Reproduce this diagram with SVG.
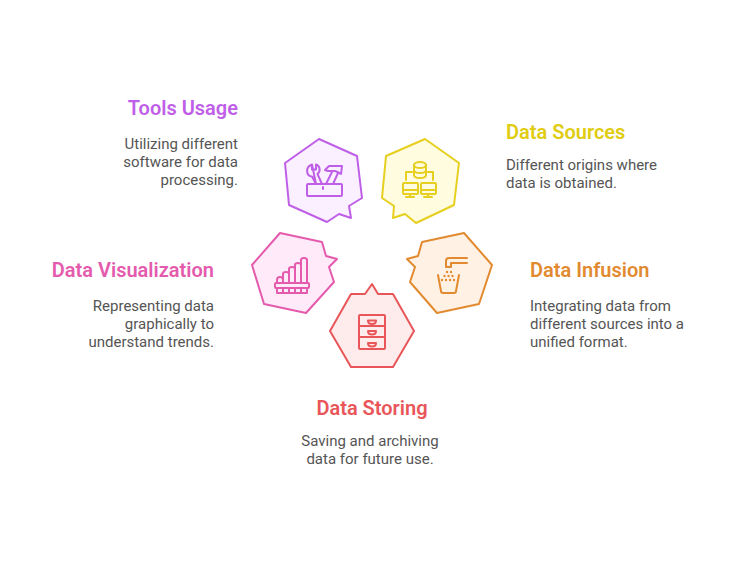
<svg xmlns="http://www.w3.org/2000/svg" width="744" height="564" viewBox="0 0 744 564">
<style>
text{font-family:Roboto,"Liberation Sans",sans-serif}
.t{font-size:20px;font-weight:600}
.d{font-size:15px;fill:#555}
.o{stroke-width:2;stroke-linejoin:round}
.i{fill:none;stroke-width:2;stroke-linejoin:round;stroke-linecap:round}
.e{text-anchor:end}.m{text-anchor:middle}
</style>
<rect width="744" height="564" fill="#fff"/>
<g id="connectors"/>
<g id="tools">
<polygon class="o" points="319,139 357,156 362,198 349,206 351,218 339,214 327,222 289,205 285,163" fill="#faf0ff" stroke="#bf5fe8"/>
<g class="i" stroke="#bf5fe8">
<rect x="307" y="184" width="35" height="12" rx="1"/>
<path d="M312,164.5 V169.5 H316 V164.5 C320,166 321,171 317.5,174 L322,184 M316,184 L312,176.5 C306,176 305,167 312,164.5 Z"/>
<path d="M325,170 L329,166 H342 L341,174 Q338,172 335,171 H328 Z M332,172 L326,184 M338,173 L333,184"/>
<path d="M323,187 V189"/>
</g>
<text class="t e" x="238" y="115" fill="#bf5fe8">Tools Usage</text>
<text class="d e" x="238" y="149">Utilizing different</text>
<text class="d e" x="238" y="167">software for data</text>
<text class="d e" x="238" y="185">processing.</text>
</g>
<g id="sources">
<polygon class="o" points="425,139 459,163 454,205 416,223 405,214 393,218 394,206 382,198 386,156" fill="#fffce0" stroke="#e6cf1f"/>
<g class="i" stroke="#e6cf1f">
<ellipse cx="420" cy="165" rx="6" ry="3"/>
<path d="M414,165 V175 C414,179 426,179 426,175 V165 M414,170 C414,174 426,174 426,170"/>
<path d="M412,172 H406 V180 M428,172 H433 V180"/>
<rect x="403" y="183" width="15" height="11" rx="1"/>
<rect x="421" y="183" width="15" height="11" rx="1"/>
<path d="M403,190 H418 M421,190 H436 M410,194 V197 M406,197 H414 M428,194 V197 M424,197 H432"/>
</g>
<text class="t" x="506" y="139" fill="#e0cc10">Data Sources</text>
<text class="d" x="506" y="170">Different origins where</text>
<text class="d" x="506" y="188">data is obtained.</text>
</g>
<g id="visualization">
<polygon class="o" points="280,233 322,242 326,256 337,259 329,267 334,282 306,313 264,304 252,265" fill="#feeaf8" stroke="#e45bae"/>
<g class="i" stroke="#e45bae">
<path d="M277,283 V280 Q277,277 280,277 Q283,277 283,280 V283 M283,283 V274 Q283,272 286,272 Q289,272 289,274 V283 M289,283 V269 Q289,267 292,267 Q295,267 295,269 V283 M295,283 V265 Q295,263 298,263 Q301,263 301,265 V283 M301,283 V260 Q301,258 304,258 Q307,258 307,260 V283"/>
<rect x="275" y="283" width="34" height="5" rx="1"/>
<path d="M277,288 V293 H307 V288 M283,288 V293 M289,288 V293 M295,288 V293 M301,288 V293"/>
</g>
<text class="t e" x="214" y="277" fill="#e45bae">Data Visualization</text>
<text class="d e" x="214" y="311">Representing data</text>
<text class="d e" x="214" y="329">graphically to</text>
<text class="d e" x="214" y="347">understand trends.</text>
</g>
<g id="storing">
<polygon class="o" points="372,284 378,294 393,294 414,331 393,367 351,367 330,331 351,294 365,294" fill="#feecec" stroke="#e9565a"/>
<g class="i" stroke="#e9565a">
<rect x="359" y="315" width="26" height="34" rx="1"/>
<path d="M359,326 H385 M359,337 H385"/>
<path d="M368,320.5 H376 Q376,324 372,324 Q368,324 368,320.5 Z M368,331 H376 Q376,334.5 372,334.5 Q368,334.5 368,331 Z M368,343 H376 Q376,346.5 372,346.5 Q368,346.5 368,343 Z"/>
</g>
<text class="t m" x="372" y="415" fill="#e9565a">Data Storing</text>
<text class="d m" x="370" y="446">Saving and archiving</text>
<text class="d m" x="370" y="464">data for future use.</text>
</g>
<g id="infusion">
<polygon class="o" points="464,233 492,265 479,304 437,313 410,282 415,267 407,259 418,256 422,242" fill="#fff2e5" stroke="#e28a30"/>
<g class="i" stroke="#e28a30">
<path d="M467,258 H449 Q446,258 446,261 V267 H451 V263 H467"/>
<path d="M438,275 L441,291 Q441,293 443,293 H454 Q456,293 456,291 L459,275"/>
</g>
<g fill="#e28a30">
<circle cx="447" cy="272" r="1.2"/><circle cx="451" cy="272" r="1.2"/>
<circle cx="444.500" cy="276" r="1.2"/><circle cx="448.500" cy="276" r="1.2"/><circle cx="452.500" cy="276" r="1.2"/>
<circle cx="442" cy="280" r="1.2"/><circle cx="446" cy="280" r="1.2"/><circle cx="450" cy="280" r="1.2"/><circle cx="454" cy="280" r="1.2"/>
</g>
<text class="t" x="530" y="277" fill="#e28a30">Data Infusion</text>
<text class="d" x="530" y="311">Integrating data from</text>
<text class="d" x="530" y="329">different sources into a</text>
<text class="d" x="530" y="347">unified format.</text>
</g>
</svg>
